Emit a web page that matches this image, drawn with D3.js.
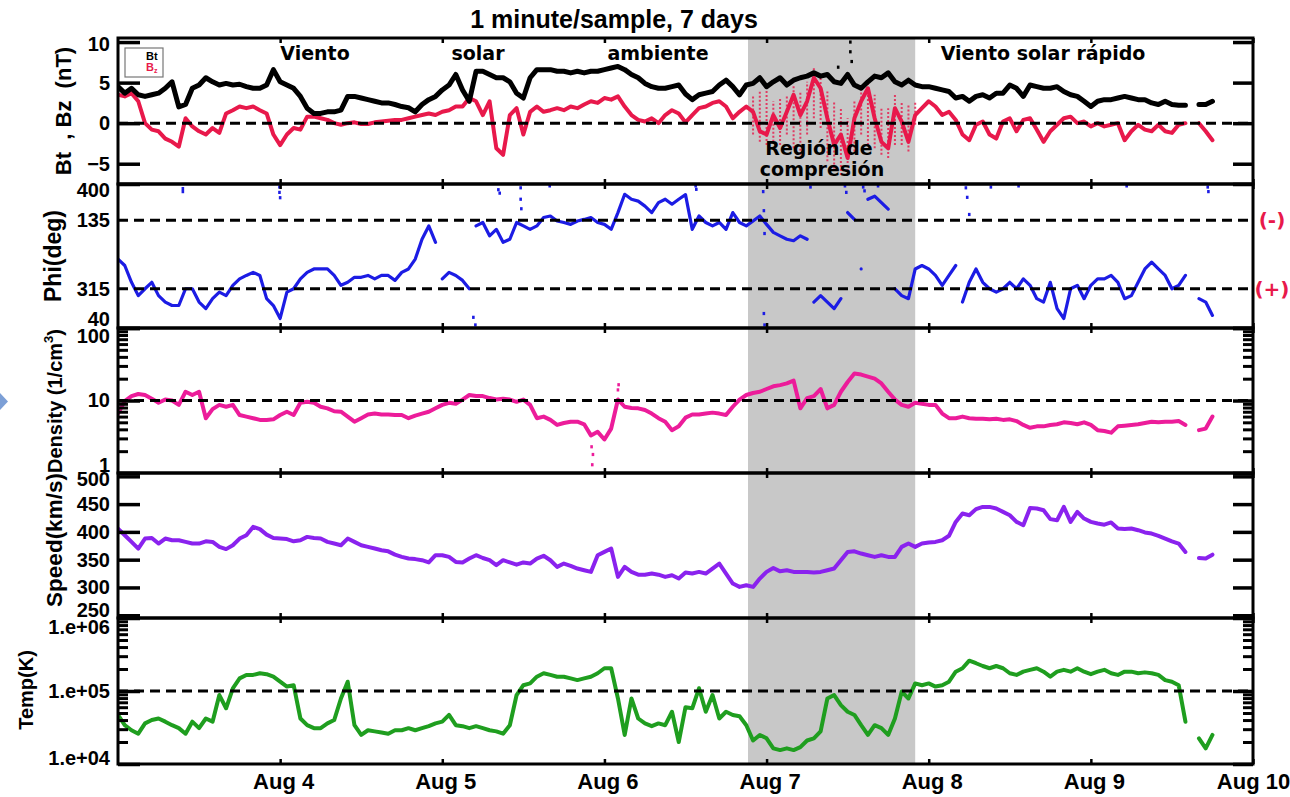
<!DOCTYPE html>
<html>
<head>
<meta charset="utf-8">
<title>1 minute/sample, 7 days</title>
<script src="https://cdn.jsdelivr.net/npm/d3@7"></script>
<style>
  body { margin: 0; background: #fff; }
  svg text { font-family: "Liberation Sans", Arial, sans-serif; font-weight: bold; }
  svg text.note { font-family: "DejaVu Sans", sans-serif; }
</style>
</head>
<body>
<div id="chart-area"></div>
<script>
// time axis: hours since Aug 3 00:00, one reading per hour
const dayTicks = [24, 48, 72, 96, 120, 144, 168];
const dayLabels = ['Aug 4', 'Aug 5', 'Aug 6', 'Aug 7', 'Aug 8', 'Aug 9', 'Aug 10'];
const compression = [93.25, 118];

// Bt (nT)
const bt = [4.5, 3.7, 4.3, 3.5, 3.3, 3.5, 3.7, 4.3, 5.1, 2.0,
  2.3, 4.3, 4.7, 5.6, 5.1, 4.7, 4.9, 4.7, 4.8, 4.5,
  4.3, 4.3, 4.7, 6.6, 5.1, 4.7, 4.3, 3.3, 1.85, 1.2,
  1.2, 1.4, 1.4, 1.6, 3.3, 3.3, 3.1, 2.9, 2.7, 2.5,
  2.5, 2.3, 2.05, 1.9, 1.4, 2.3, 2.9, 3.3, 4.1, 4.7,
  6.0, 4.1, 2.7, 6.4, 6.4, 6.0, 5.6, 5.6, 5.1, 3.7,
  3.1, 5.6, 6.6, 6.6, 6.6, 6.4, 6.4, 6.2, 6.4, 6.2,
  6.4, 6.4, 6.6, 6.8, 7.0, 6.6, 6.0, 5.6, 4.9, 4.5,
  4.3, 4.3, 4.5, 4.7, 3.6, 2.9, 3.5, 3.7, 3.9, 4.7,
  5.3, 4.5, 3.5, 4.7, 4.9, 5.6, 4.5, 5.1, 5.6, 4.7,
  5.3, 5.6, 5.8, 6.2, 5.8, 6.0, 5.1, 4.9, 6.0, 4.7,
  4.3, 5.1, 5.8, 5.6, 6.2, 5.1, 4.7, 5.3, 4.7, 4.5,
  4.5, 4.3, 4.1, 3.9, 3.1, 3.3, 2.7, 3.3, 3.5, 3.1,
  3.7, 3.7, 4.7, 4.3, 3.3, 4.7, 4.5, 4.3, 4.3, 4.5,
  3.9, 3.5, 3.3, 2.7, 2.05, 2.7, 2.9, 2.9, 3.1, 3.3,
  3.1, 2.9, 2.9, 2.5, 2.3, 2.7, 2.3, 2.2, 2.2, null,
  2.3, 2.3, 2.7];
const btSpikes = [[108.4, 10.0], [108.4, 8.8], [108.6, 7.6], [106.6, 6.9]];

// Bz (nT)
const bz = [3.5, 3.3, 3.7, 2.7, 0, -0.8, -1.0, -1.9, -2.3, -2.9,
  0.6, -0.4, -1.0, -1.4, -0.6, -1.2, 1.2, 1.6, 2.05, 1.85,
  2.05, 1.6, 1.2, -1.4, -2.7, -1.4, -0.6, -0.8, 0.8, 0.8,
  0.6, 0.4, 0, -0.2, 0, 0.1, -0.1, -0.1, 0.1, 0.2,
  0.3, 0.4, 0.4, 0.6, 0.8, 1.0, 1.2, 1.0, 1.4, 1.6,
  2.05, 2.05, 3.1, 2.7, 1.0, 2.7, -3.1, -3.9, 1.0, 1.85,
  -1.4, 1.4, 2.05, 1.4, 1.6, 1.85, 1.6, 2.05, 1.85, 2.3,
  2.7, 2.5, 3.1, 2.9, 3.3, 2.05, 1.0, 0.4, 0.2, 0.6,
  0, 1.0, 1.6, 1.2, 0.1, 1.0, 1.85, 2.05, 2.5, 2.7,
  2.05, 0.6, 1.4, 2.05, 1.4, -1.0, -1.4, 1.0, -0.6, 1.4,
  3.5, 1.0, 2.7, 5.6, 4.3, 0.6, -2.7, -1.4, -4.3, 0.6,
  2.7, 4.3, 0.6, -2.3, -3.1, 1.85, 0.2, -2.3, 1.0, 1.85,
  2.7, 2.05, 1.0, 1.4, 0.4, -1.4, -2.1, -0.2, 0.2, -1.4,
  -1.9, 0.2, 0.6, -1.0, 0.4, 0.6, -0.8, -2.3, -1.0, -0.2,
  0.6, 0.8, 0, 0.2, -0.4, 0, -0.4, -0.2, 0, -2.1,
  -1.0, -0.2, -0.8, -1.0, -0.2, -1.0, -1.2, -0.2, 0, null,
  0, -1.0, -2.1];
// spread of the Bz cloud inside the compression region (hour, low, high)
const bzSpreadHours = [94, 95, 96, 97, 98, 99, 100, 101, 102, 103, 104, 105, 106,
  107, 108, 109, 110, 111, 112, 113, 114, 115, 116, 117, 118];
const bzLow = [-1.4, -2.3, -2.7, -2.3, -2.7, -1.4, -3.1, -3.9, -1.4, 0.6, -0.6, -4.7, -5.6,
  -6.4, -6.4, -3.5, -1.4, -2.7, -3.1, -3.9, -4.3, -2.7, -2.7, -3.5, -0.2];
const bzHigh = [3.5, 3.9, 4.3, 2.7, 3.1, 3.5, 4.7, 3.9, 5.1, 6.8, 6.0, 3.9, 2.7,
  1.85, 0.6, 2.7, 4.7, 5.1, 3.5, 1.85, 1.85, 3.5, 2.7, 2.3, 2.7];

// Phi (deg), in the plot's own axis units
const phi = [237, 254, 298, 333, 315, 298, 333, 350, 359, 359,
  315, 315, 350, 367, 341, 324, 333, 306, 289, 280,
  272, 280, 341, 359, 393, 324, 315, 289, 272, 263,
  263, 263, 280, 306, 298, 285, 285, 280, 289, 280,
  280, 293, 272, 263, 237, 185, 150, 193, 289, 272,
  280, 293, 315, 150, 141, 176, 159, 193, 185, 141,
  150, 159, 150, 128, 124, 137, 141, 146, 137, 133,
  128, 141, 146, 159, 115, 67, 80, 85, 98, 115,
  89, 80, 93, 80, 68, 159, 124, 141, 150, 141,
  159, 115, 141, 150, 137, 124, 146, 167, 176, 185,
  189, 176, 185, 350, 333, 350, 367, 341, 115, 133,
  263, 80, 72, 89, 106, 315, 333, 341, 263, 254,
  263, 280, 306, 280, 254, 350, 298, 263, 298, 315,
  324, 315, 298, 315, 289, 306, 341, 350, 298, 367,
  393, 315, 306, 341, 306, 289, 289, 280, 298, 341,
  333, 298, 263, 245, 263, 280, 315, 306, 280, null,
  341, 350, 385];
const phiStray = [[9.6, 52], [9.6, 60], [23.9, 48], [23.9, 62], [24.0, 76], [52.6, 390],
  [52.9, 410], [56.3, 55], [56.5, 64], [59.6, 50], [59.6, 80], [59.7, 105], [63.9, 45],
  [85.5, 45], [85.6, 54], [95.5, 60], [95.6, 110], [95.7, 170], [95.6, 380], [95.7, 410],
  [102.5, 48], [107.6, 45], [107.8, 62], [110.3, 48], [110.5, 58], [112.5, 45],
  [125.5, 50], [125.7, 75], [126.0, 120], [129.2, 48], [133.3, 45], [149.3, 45],
  [161.3, 48], [161.4, 60]];

// proton density (1/cm3)
const dens = [6.6, 9.8, 11.5, 12.3, 11.9, 10.6, 9.3, 10.3, 10, 8.7,
  13.2, 11.9, 13.2, 5.7, 7.6, 8.7, 8.2, 8.7, 6.3, 6.0,
  5.7, 5.4, 5.4, 5.5, 6.3, 7.0, 6.3, 9.3, 9.6, 9.3,
  8.2, 7.8, 7.1, 7.0, 6.0, 5.1, 5.7, 6.4, 6.6, 6.4,
  6.4, 6.3, 6.3, 5.7, 6.2, 6.6, 7.0, 7.8, 8.7, 9.3,
  9.0, 10.3, 11.9, 11.5, 11.5, 10.8, 10.3, 10.6, 10.3, 9.6,
  10.3, 8.7, 5.7, 6.0, 5.4, 4.6, 4.9, 5.1, 5.1, 4.7,
  3.3, 3.7, 2.9, 4.1, 10.3, 8.2, 7.9, 7.8, 7.4, 6.6,
  5.7, 5.1, 3.9, 4.4, 5.8, 6.4, 6.4, 6.6, 6.8, 6.6,
  6.3, 8.2, 10.3, 11.9, 12.7, 13.2, 14.4, 15.7, 16.3, 17.2,
  18.8, 7.8, 10.8, 11.5, 14.4, 7.8, 8.7, 13.2, 18.0, 23.5,
  22.8, 21.4, 20.0, 17.2, 13.2, 10.3, 8.7, 8.2, 9.3, 9.0,
  8.7, 8.7, 6.6, 5.7, 5.7, 6.0, 5.7, 5.6, 5.6, 5.5,
  5.6, 5.4, 5.5, 5.2, 4.6, 4.2, 4.4, 4.4, 4.6, 4.7,
  5.0, 4.9, 4.7, 5.0, 4.6, 3.9, 3.8, 3.6, 4.4, 4.5,
  4.6, 4.7, 4.9, 5.1, 5.0, 5.1, 5.1, 5.2, 4.6, null,
  3.9, 4.1, 6.0];
const densStray = [[70.2, 1.3], [70.3, 1.8], [70.1, 2.3], [74.1, 16.5], [74.0, 14.0]];

// flow speed (km/s)
const speed = [406, 394, 382, 370, 388, 389, 379, 388, 385, 385,
  382, 379, 379, 383, 382, 373, 369, 376, 388, 394,
  409, 405, 395, 389, 388, 387, 383, 385, 391, 389,
  388, 382, 379, 376, 388, 382, 376, 373, 370, 367,
  365, 359, 355, 352, 351, 349, 345, 358, 358, 355,
  346, 345, 352, 358, 353, 349, 340, 349, 345, 341,
  345, 343, 352, 357, 349, 337, 343, 339, 334, 331,
  328, 358, 364, 370, 319, 337, 328, 323, 323, 325,
  323, 319, 322, 316, 327, 325, 328, 325, 334, 343,
  325, 307, 301, 304, 301, 316, 328, 335, 329, 331,
  328, 328, 328, 327, 328, 331, 334, 349, 364, 365,
  361, 358, 355, 358, 355, 355, 373, 379, 373, 379,
  381, 382, 385, 393, 418, 433, 430, 441, 445, 445,
  442, 436, 430, 418, 412, 443, 442, 439, 423, 421,
  445, 418, 436, 424, 418, 415, 413, 417, 406, 405,
  406, 403, 399, 397, 393, 388, 383, 379, 364, null,
  353, 352, 359];

// proton temperature (K)
const temp = [4.7e4, 3.4e4, 2.9e4, 2.6e4, 3.6e4, 4.0e4, 4.2e4, 3.8e4, 3.4e4, 3.1e4,
  2.6e4, 3.8e4, 3.1e4, 4.2e4, 3.8e4, 8.8e4, 5.8e4, 1.09e5, 1.49e5, 1.66e5,
  1.66e5, 1.75e5, 1.7e5, 1.57e5, 1.34e5, 1.15e5, 1.2e5, 4.2e4, 3.4e4, 3.1e4,
  3.1e4, 3.6e4, 4.0e4, 7.9e4, 1.34e5, 3.4e4, 2.5e4, 2.9e4, 2.8e4, 2.7e4,
  2.6e4, 2.9e4, 2.9e4, 3.1e4, 2.9e4, 3.1e4, 3.3e4, 3.6e4, 3.8e4, 4.7e4,
  3.4e4, 3.3e4, 3.1e4, 3.3e4, 3.1e4, 2.9e4, 2.8e4, 2.6e4, 3.4e4, 8.8e4,
  1.2e5, 1.27e5, 1.57e5, 1.75e5, 1.66e5, 1.57e5, 1.57e5, 1.49e5, 1.41e5, 1.49e5,
  1.57e5, 1.75e5, 2.05e5, 2.05e5, 7.9e4, 2.5e4, 7.9e4, 4.2e4, 3.6e4, 3.3e4,
  3.6e4, 3.4e4, 5.2e4, 2.0e4, 6.0e4, 5.8e4, 1.09e5, 5.2e4, 8.8e4, 4.2e4,
  5.2e4, 4.7e4, 4.5e4, 3.4e4, 2.1e4, 2.5e4, 2.25e4, 1.64e4, 1.55e4, 1.64e4,
  1.55e4, 1.7e4, 2.1e4, 2.25e4, 2.8e4, 7.9e4, 8.8e4, 6.4e4, 5.2e4, 4.7e4,
  3.4e4, 2.5e4, 3.4e4, 3.1e4, 2.5e4, 4.2e4, 9.8e4, 7.9e4, 1.27e5, 1.2e5,
  1.27e5, 1.15e5, 1.2e5, 1.34e5, 1.84e5, 2.05e5, 2.6e5, 2.4e5, 2.2e5, 2.05e5,
  2.2e5, 2.05e5, 1.75e5, 1.66e5, 1.84e5, 1.95e5, 2.05e5, 1.84e5, 1.57e5, 1.84e5,
  1.95e5, 1.84e5, 2.05e5, 1.84e5, 1.7e5, 1.84e5, 1.95e5, 1.75e5, 1.66e5, 1.84e5,
  1.84e5, 1.75e5, 1.8e5, 1.75e5, 1.66e5, 1.41e5, 1.34e5, 1.2e5, 3.8e4, null,
  2.25e4, 1.64e4, 2.5e4];

// axis ticks
const bTicks = [-5, 0, 5, 10];
const phiTicks = [40, 135, 315, 418];
const phiTickLabels = ['400', '135', '315', '40'];
const nTicks = [1, 10, 100];
const nMinor = [2, 3, 4, 5, 6, 7, 8, 9, 20, 30, 40, 50, 60, 70, 80, 90];
const vTicks = [250, 300, 350, 400, 450, 500];
const tTicks = [1e4, 1e5, 1e6];
const tTickLabels = ['1.e+04', '1.e+05', '1.e+06'];
const tMinor = [2e4, 3e4, 4e4, 5e4, 6e4, 7e4, 8e4, 9e4, 2e5, 3e5, 4e5, 5e5, 6e5, 7e5, 8e5, 9e5];

const hours = bt.map((d, i) => i);

const svg = d3.select('#chart-area').append('svg')
    .attr('width', 1290)
    .attr('height', 797);

const left = 118, right = 1253;
const x = d3.scaleLinear().domain([0, 168]).range([left, right]);

const panels = [
  {top: 38, bottom: 184},
  {top: 184, bottom: 328},
  {top: 328, bottom: 473},
  {top: 473, bottom: 618},
  {top: 618, bottom: 764}
];

const yB = d3.scaleLinear().domain([-7.5, 10.5]).range([184, 38]);
const yPhi = d3.scaleLinear().domain([40, 418]).range([184, 328]);
const yN = d3.scaleLog().domain([1, 100]).range([473, 328]);
const yV = d3.scaleLinear().domain([245, 506]).range([618, 473]);
const yT = d3.scaleLog().domain([1e4, 1e6]).range([764, 618]);

// grey band: compression region
svg.append('rect')
    .attr('x', x(compression[0]))
    .attr('y', panels[0].top)
    .attr('width', x(compression[1]) - x(compression[0]))
    .attr('height', panels[4].bottom - panels[0].top)
    .attr('fill', '#c8c8c8');

// clip paths per panel
panels.forEach((p, i) => {
  svg.append('clipPath').attr('id', 'clip' + i)
    .append('rect')
      .attr('x', left).attr('y', p.top)
      .attr('width', right - left).attr('height', p.bottom - p.top);
});

function drawSeries(vals, y, color, width, panel, jump) {
  const pts = [];
  let prev = null;
  vals.forEach((v, i) => {
    if (v === null) { pts.push(null); prev = null; return; }
    if (jump && prev !== null && Math.abs(v - prev) > jump) pts.push(null);
    pts.push([hours[i], v]);
    prev = v;
  });
  const line = d3.line()
      .defined(d => d !== null)
      .x(d => x(d[0]))
      .y(d => y(d[1]));
  svg.append('path')
      .attr('clip-path', 'url(#clip' + panel + ')')
      .attr('d', line(pts))
      .attr('fill', 'none')
      .attr('stroke', color)
      .attr('stroke-width', width)
      .attr('stroke-linejoin', 'round')
      .attr('stroke-linecap', 'round');
}

function drawDots(list, y, color, panel) {
  svg.append('g').attr('clip-path', 'url(#clip' + panel + ')')
    .selectAll('rect')
    .data(list).enter()
      .append('rect')
        .attr('x', d => x(d[0]) - 1.3)
        .attr('y', d => y(d[1]) - 1.6)
        .attr('width', 2.6)
        .attr('height', 3.2)
        .attr('fill', color);
}

// Bz cloud spread in the compression region
svg.append('g').attr('clip-path', 'url(#clip0)')
  .selectAll('line')
  .data(bzSpreadHours).enter()
    .append('line')
      .attr('x1', d => x(d)).attr('x2', d => x(d))
      .attr('y1', (d, i) => yB(bzLow[i]))
      .attr('y2', (d, i) => yB(bzHigh[i]))
      .attr('stroke', '#e8194b')
      .attr('stroke-width', 2)
      .attr('stroke-dasharray', '2,2')
      .attr('opacity', 0.8);

drawSeries(bz, yB, '#e8194b', 4, 0);
drawSeries(bt, yB, '#000000', 5, 0);
drawDots(btSpikes, yB, '#000000', 0);
drawSeries(phi, yPhi, '#1c1ce4', 3.2, 1, 95);
drawDots(phiStray, yPhi, '#1c1ce4', 1);
drawSeries(dens, yN, '#ec1c9a', 4, 2);
drawDots(densStray, yN, '#ec1c9a', 2);
drawSeries(speed, yV, '#8a22ee', 4, 3);
drawSeries(temp, yT, '#1f9e1f', 4, 4);

// dashed reference levels
const refs = [[yB, 0], [yPhi, 135], [yPhi, 315], [yN, 10], [yT, 1e5]];
refs.forEach(r => {
  svg.append('line')
      .attr('x1', left).attr('x2', right)
      .attr('y1', r[0](r[1])).attr('y2', r[0](r[1]))
      .attr('stroke', '#000')
      .attr('stroke-width', 3)
      .attr('stroke-dasharray', '10,6');
});

// y axes, ticks inside the frame on both sides
function yAxis(y, panel, major, minor, fmt, skipLines, clampTop, clampBottom) {
  const p = panels[panel];
  const gl = svg.append('g').attr('transform', `translate(${left},0)`)
      .call(d3.axisLeft(y).tickValues(major).tickSizeInner(-22).tickSizeOuter(0)
        .tickPadding(8).tickFormat(fmt));
  const gr = svg.append('g').attr('transform', `translate(${right},0)`)
      .call(d3.axisRight(y).tickValues(major).tickSizeInner(-20).tickSizeOuter(0)
        .tickFormat(''));
  [gl, gr].forEach(g => {
    g.select('.domain').remove();
    g.selectAll('line').attr('stroke', '#000').attr('stroke-width', 3.5);
    if (skipLines) g.selectAll('.tick').filter(d => skipLines.includes(d)).select('line').remove();
  });
  gl.attr('font-family', null).attr('font-size', 20);
  gl.selectAll('text')
      .attr('fill', '#000')
      .attr('y', d => {
        const v = y(d);
        return Math.max(p.top + clampTop, Math.min(p.bottom - clampBottom, v)) - v;
      });
  if (minor) {
    [[left, d3.axisLeft], [right, d3.axisRight]].forEach(a => {
      const g = svg.append('g').attr('transform', `translate(${a[0]},0)`)
          .call(a[1](y).tickValues(minor).tickSize(-10).tickFormat(''));
      g.select('.domain').remove();
      g.selectAll('line').attr('stroke', '#000').attr('stroke-width', 3);
    });
  }
}

yAxis(yB, 0, bTicks, null, d3.format('d'), null, 6, 7);
yAxis(yPhi, 1, phiTicks, null, d => phiTickLabels[phiTicks.indexOf(d)], [135, 315], 6, 9);
yAxis(yN, 2, nTicks, nMinor, d3.format('d'), null, 8, 8);
yAxis(yV, 3, vTicks, null, d3.format('d'), null, 6, 8);
yAxis(yT, 4, tTicks, tMinor, d => tTickLabels[tTicks.indexOf(d)], null, 9, 6);

// small day ticks on every panel edge
panels.forEach((p, i) => {
  const gb = svg.append('g').attr('transform', `translate(0,${p.bottom})`)
      .call(d3.axisBottom(x).tickValues(dayTicks).tickSize(-5).tickFormat(''));
  const gt = svg.append('g').attr('transform', `translate(0,${p.top})`)
      .call(d3.axisTop(x).tickValues(dayTicks).tickSize(-5).tickFormat(''));
  [gb, gt].forEach(g => {
    g.select('.domain').remove();
    g.selectAll('line').attr('stroke', '#000').attr('stroke-width', 2.5);
  });
  svg.append('rect')
      .attr('x', left).attr('y', p.top)
      .attr('width', right - left).attr('height', p.bottom - p.top)
      .attr('fill', 'none')
      .attr('stroke', '#000')
      .attr('stroke-width', 3);
});

// date labels
const gx = svg.append('g').attr('transform', `translate(0,${panels[4].bottom})`)
    .call(d3.axisBottom(x).tickValues(dayTicks).tickSize(0).tickPadding(9)
      .tickFormat(d => dayLabels[dayTicks.indexOf(d)]));
gx.select('.domain').remove();
gx.attr('font-family', null).attr('font-size', 22);
gx.selectAll('text').attr('fill', '#000').attr('dx', d => d === 168 ? 0 : 3);

// title
svg.append('text')
    .attr('x', 614).attr('y', 28)
    .attr('text-anchor', 'middle')
    .attr('font-size', 25)
    .text('1 minute/sample, 7 days');

// y axis titles
const yTitles = [
  {text: 'Bt  , Bz  (nT)', x: 71, y: 111, size: 22},
  {text: 'Phi(deg)', x: 61, y: 256, size: 23},
  {text: 'Speed(km/s)', x: 62, y: 540, size: 22.5},
  {text: 'Temp(K)', x: 33, y: 690, size: 20}
];
yTitles.forEach(t => {
  svg.append('text')
      .attr('transform', `translate(${t.x},${t.y}) rotate(-90)`)
      .attr('text-anchor', 'middle')
      .attr('font-size', t.size)
      .style('white-space', 'pre')
      .text(t.text);
});
const dt = svg.append('text')
    .attr('transform', 'translate(62,401) rotate(-90)')
    .attr('text-anchor', 'middle')
    .attr('font-size', 20);
dt.append('tspan').text('Density (1/cm');
dt.append('tspan').attr('font-size', 13).attr('dy', -9).text('3');
dt.append('tspan').attr('dy', 9).text(')');

// legend
svg.append('rect')
    .attr('x', 125).attr('y', 48).attr('width', 38).attr('height', 29)
    .attr('fill', '#fff').attr('stroke', '#777').attr('stroke-width', 1.2);
svg.append('text').attr('x', 146).attr('y', 60).attr('font-size', 11).text('Bt');
const lz = svg.append('text').attr('x', 146).attr('y', 71).attr('font-size', 11)
    .attr('fill', '#e8194b');
lz.append('tspan').text('B');
lz.append('tspan').attr('font-size', 7).attr('dy', 2).text('z');

// annotations
const notes = [
  {text: 'Viento', x: 315, y: 60},
  {text: 'solar', x: 478, y: 60},
  {text: 'ambiente', x: 658, y: 60},
  {text: 'Viento solar rápido', x: 1043, y: 60},
  {text: 'Región de', x: 819, y: 155},
  {text: 'compresión', x: 822, y: 176}
];
notes.forEach(n => {
  svg.append('text')
      .attr('class', 'note')
      .attr('x', n.x).attr('y', n.y)
      .attr('text-anchor', 'middle')
      .attr('font-size', 19)
      .text(n.text);
});

// sector marks
[['(-)', 135], ['(+)', 315]].forEach(s => {
  svg.append('text')
      .attr('class', 'note')
      .attr('x', 1272).attr('y', yPhi(s[1]) + 7)
      .attr('text-anchor', 'middle')
      .attr('font-size', 20)
      .attr('fill', '#e8194b')
      .text(s[0]);
});

// slide arrow cut at the left edge
svg.append('path')
    .attr('d', 'M0,393 L8,401.5 L0,410 Z')
    .attr('fill', '#7c9fd6');
</script>
</body>
</html>
